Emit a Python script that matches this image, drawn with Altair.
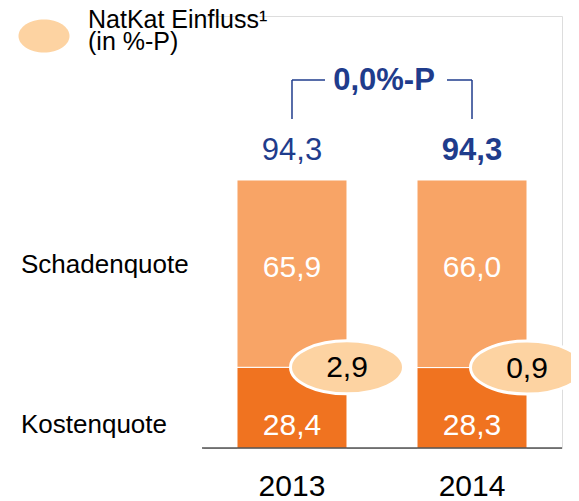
import altair as alt
import pandas as pd

years = ["2013", "2014"]
kosten = [28.4, 28.3]
schaden = [65.9, 66.0]
natkat = [2.9, 0.9]
part_names = ["Kostenquote", "Schadenquote"]
legend_lines = ["NatKat Einfluss\u00b9", "(in %-P)"]

BLUE = "#1F3C8C"
DARK = "#F07320"
LIGHT = "#F8A466"
PALE = "#FDD3A2"
FONT = "Liberation Sans"


def fmt(v):
    return f"{v:.1f}".replace(".", ",")


totals = [round(k + s, 1) for k, s in zip(kosten, schaden)]
diff = round(totals[1] - totals[0], 1)

rows = []
for y, k, s in zip(years, kosten, schaden):
    rows.append(dict(year=y, part=part_names[0], start=0, end=k, mid=k / 2, label=fmt(k)))
    rows.append(dict(year=y, part=part_names[1], start=k, end=k + s, mid=k + s / 2, label=fmt(s)))
bars_df = pd.DataFrame(rows)

top_df = pd.DataFrame(dict(year=years, total=totals, label=[fmt(t) for t in totals],
                           kosten=kosten, natkat=[fmt(n) for n in natkat], zero=[0, 0]))
diff_df = pd.DataFrame(dict(year=[years[0]], total=[totals[0]], label=[fmt(diff) + "%-P"]))
legend_df = pd.DataFrame(dict(t=legend_lines, i=[0, 1]))

xscale = alt.Scale(domain=years, paddingInner=0.3889, paddingOuter=0.1944)
yscale = alt.Scale(domain=[0, 152], nice=False, zero=True)


def Y(f):
    return alt.Y(f, scale=yscale, axis=None, title=None)


X = alt.X("year:N", scale=xscale, axis=None, title=None)

bars = alt.Chart(bars_df).mark_bar(stroke="white", strokeWidth=1).encode(
    x=X,
    y=Y("start:Q"),
    y2="end:Q",
    color=alt.Color("part:N", scale=alt.Scale(domain=part_names, range=[DARK, LIGHT]), legend=None),
)

mask = alt.Chart(top_df).transform_filter(alt.datum.year == years[0]).mark_rule(
    color="white", strokeWidth=3).encode(x=alt.value(0), y=alt.value(-16), y2=alt.value(439))

baseline = alt.Chart(top_df).transform_filter(alt.datum.year == years[0]).mark_rule(
    color="black", strokeWidth=1).encode(y=Y("zero:Q"))
year_lbl = alt.Chart(top_df).mark_text(
    color="black", fontSize=30, font=FONT, baseline="alphabetic", dy=48
).encode(x=X, y=Y("zero:Q"), text="year:N")

base_bars = alt.Chart(bars_df)
schaden_lbl = base_bars.transform_filter(alt.datum.part == part_names[1]).mark_text(
    color="white", fontSize=30, font=FONT, baseline="alphabetic", dy=3
).encode(x=X, y=Y("mid:Q"), text="label:N")
kosten_lbl = base_bars.transform_filter(alt.datum.part == part_names[0]).mark_text(
    color="white", fontSize=30, font=FONT, baseline="alphabetic", dy=27
).encode(x=X, y=Y("mid:Q"), text="label:N")

left_s = base_bars.transform_filter(
    (alt.datum.part == part_names[1]) & (alt.datum.year == years[0])
).mark_text(color="black", fontSize=26, font=FONT, align="left", baseline="alphabetic", dy=-1
).encode(x=alt.value(-181), y=Y("mid:Q"), text="part:N")
left_k = base_bars.transform_filter(
    (alt.datum.part == part_names[0]) & (alt.datum.year == years[0])
).mark_text(color="black", fontSize=26, font=FONT, align="left", baseline="alphabetic", dy=25
).encode(x=alt.value(-181), y=Y("mid:Q"), text="part:N")

ELL = "M-1,0A1,0.469,0,1,0,1,0A1,0.469,0,1,0,-1,0Z"
ell = alt.Chart(top_df).mark_point(shape=ELL, size=12769, filled=True, fill=PALE, opacity=1,
                                   stroke="white", strokeWidth=3, xOffset=55
).encode(x=X, y=Y("kosten:Q"))
ell_lbl = alt.Chart(top_df).mark_text(color="black", fontSize=30, font=FONT, baseline="middle",
                                      dy=1, xOffset=55
).encode(x=X, y=Y("kosten:Q"), text="natkat:N")

tot_n = alt.Chart(top_df).transform_filter(alt.datum.year == years[0]).mark_text(
    color=BLUE, fontSize=31, font=FONT, baseline="alphabetic", dy=-20
).encode(x=X, y=Y("total:Q"), text="label:N")
tot_b = alt.Chart(top_df).transform_filter(alt.datum.year == years[1]).mark_text(
    color=BLUE, fontSize=31, font=FONT, fontWeight="bold", baseline="alphabetic", dy=-20
).encode(x=X, y=Y("total:Q"), text="label:N")

br_v = alt.Chart(top_df).mark_rule(color=BLUE, strokeWidth=1.5, yOffset=-61, y2Offset=-100).encode(
    x=X, y=Y("total:Q"), y2="total:Q")
br_l = alt.Chart(top_df).transform_filter(alt.datum.year == years[0]).mark_tick(
    color=BLUE, thickness=1.5, size=33, orient="horizontal", xOffset=16.5, yOffset=-100,
    opacity=1).encode(x=X, y=Y("total:Q"))
br_r = alt.Chart(top_df).transform_filter(alt.datum.year == years[1]).mark_tick(
    color=BLUE, thickness=1.5, size=25, orient="horizontal", xOffset=-12.5, yOffset=-100,
    opacity=1).encode(x=X, y=Y("total:Q"))
diff_txt = alt.Chart(diff_df).mark_text(color=BLUE, fontSize=31, font=FONT, fontWeight="bold",
                                        baseline="middle", dy=-99, xOffset=92
).encode(x=X, y=Y("total:Q"), text="label:N")

LEG = "M-1,0A1,0.647,0,1,0,1,0A1,0.647,0,1,0,-1,0Z"
leg_ell = alt.Chart(legend_df).transform_filter(alt.datum.i == 0).mark_point(
    shape=LEG, size=2601, filled=True, fill=PALE, opacity=1, strokeWidth=0
).encode(x=alt.value(-158), y=alt.value(20))
leg_t1 = alt.Chart(legend_df).transform_filter(alt.datum.i == 0).mark_text(
    color="black", fontSize=25, font=FONT, align="left", baseline="alphabetic"
).encode(x=alt.value(-114), y=alt.value(12), text="t:N")
leg_t2 = alt.Chart(legend_df).transform_filter(alt.datum.i == 1).mark_text(
    color="black", fontSize=25, font=FONT, align="left", baseline="alphabetic"
).encode(x=alt.value(-114), y=alt.value(34), text="t:N")

chart = alt.layer(
    bars, mask, baseline, year_lbl, schaden_lbl, kosten_lbl, left_s, left_k, ell, ell_lbl,
    tot_n, tot_b, br_v, br_l, br_r, diff_txt, leg_ell, leg_t1, leg_t2
).properties(
    width=360, height=432,
    autosize=alt.AutoSizeParams(type="none"),
    padding={"left": 194, "top": 8, "right": 9, "bottom": 53},
).configure_view(stroke="transparent", strokeWidth=0).configure(background="white")

chart.save("out.html", embed_options={"renderer": "svg", "actions": False})
